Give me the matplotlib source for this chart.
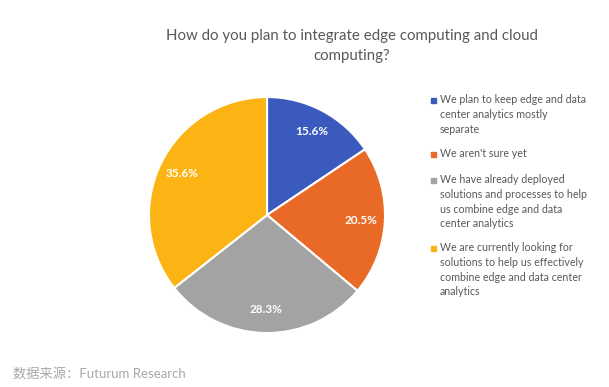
import matplotlib
matplotlib.use('agg')
import matplotlib.pyplot as plt
from matplotlib.patches import Rectangle

# data
labels = [
    "We plan to keep edge and data\ncenter analytics mostly\nseparate",
    "We aren't sure yet",
    "We have already deployed\nsolutions and processes to help\nus combine edge and data\ncenter analytics",
    "We are currently looking for\nsolutions to help us effectively\ncombine edge and data center\nanalytics",
]
shares = [15.6, 20.5, 28.3, 35.6]
colors = ['#3a5bbd', '#e86a26', '#a3a3a3', '#fcb414']

title = "How do you plan to integrate edge computing and cloud\ncomputing?"
source = "数据来源：Futurum Research"

plt.rcParams['font.family'] = ['Lato', 'Noto Sans CJK SC', 'DejaVu Sans']

fig = plt.figure(figsize=(6.09, 3.87), dpi=100)
ax = fig.add_axes([0.2447, 0.1395, 0.3875, 0.6098])

wedges, texts, autotexts = ax.pie(
    shares, colors=colors, startangle=90, counterclock=False,
    autopct='%.1f%%', pctdistance=0.8,
    wedgeprops=dict(edgecolor='white', linewidth=1.5),
    textprops=dict(color='white', fontsize=8.5, fontweight='bold'))
ax.set_xlim(-1, 1)
ax.set_ylim(-1, 1)
ax.set_aspect('equal')

fig.text(0.578, 1 - 29 / 387, title, ha='center', va='top', fontsize=10.8,
         color='#595959', linespacing=1.55)

# legend drawn by hand so the wrapped lines line up like the original
y = 1 - 94 / 387
line_h = 14 / 387
gap = 12 / 387
for lab, c in zip(labels, colors):
    fig.text(440 / 609, y, lab, ha='left', va='top', fontsize=7.7,
             color='#595959', linespacing=1.42)
    fig.patches.append(Rectangle((431 / 609, y - 9 / 387), 5 / 609, 5 / 387,
                                 transform=fig.transFigure, color=c,
                                 figure=fig))
    y -= line_h * (lab.count('\n') + 1) + gap

fig.text(13 / 609, 1 - 373 / 387, source, ha='left', va='center',
         fontsize=9.5, color='#a8a8a8')

fig.savefig('out.png')
